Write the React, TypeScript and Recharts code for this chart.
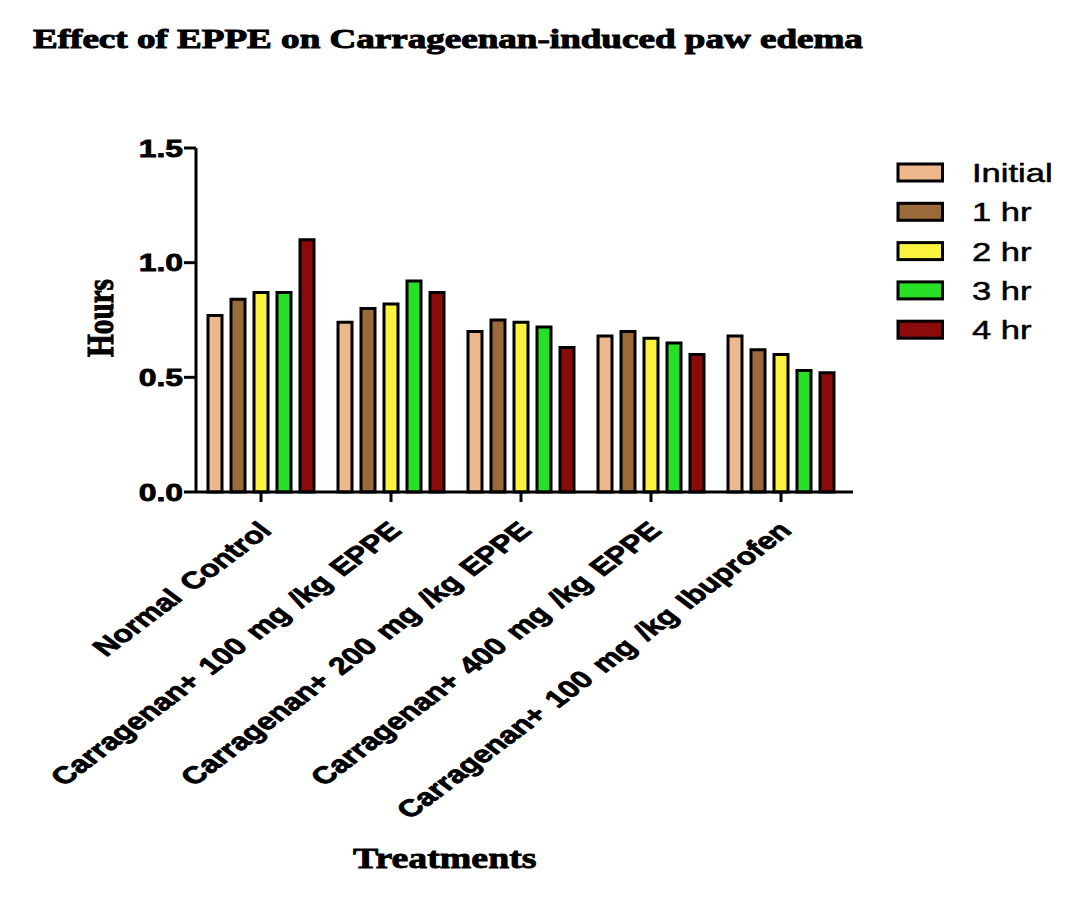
import React from 'react';
import { BarChart, Bar, XAxis, YAxis, Legend } from 'recharts';

const treatments = [
  'Normal Control',
  'Carragenan+ 100 mg /kg EPPE',
  'Carragenan+ 200 mg /kg EPPE',
  'Carragenan+ 400 mg /kg EPPE',
  'Carragenan+ 100 mg /kg Ibuprofen',
];
const initialValues = [0.77, 0.74, 0.7, 0.68, 0.68];
const hr1Values = [0.84, 0.8, 0.75, 0.7, 0.62];
const hr2Values = [0.87, 0.82, 0.74, 0.67, 0.6];
const hr3Values = [0.87, 0.92, 0.72, 0.65, 0.53];
const hr4Values = [1.1, 0.87, 0.63, 0.6, 0.52];

const seriesKeys = ['initial', 'hr1', 'hr2', 'hr3', 'hr4'];
const seriesNames = ['Initial', '1 hr', '2 hr', '3 hr', '4 hr'];
const seriesColors = ['#EDB88C', '#9A6A3B', '#FAF23C', '#27E127', '#8B0B0B'];
const yTicks = [0, 0.5, 1.0, 1.5];

const data = treatments.map((t, i) => ({
  treatment: t,
  initial: initialValues[i],
  hr1: hr1Values[i],
  hr2: hr2Values[i],
  hr3: hr3Values[i],
  hr4: hr4Values[i],
}));

const SX = 1.33;
const SANS = "'Liberation Sans', Arial, sans-serif";
const SERIF = "'Liberation Serif', 'Times New Roman', serif";

const XTick = (props: any) => {
  const { x, y, payload } = props;
  return (
    <g transform={`translate(${x + 12},${y + 28}) scale(${SX},1) rotate(-45)`}>
      <text
        x={0}
        y={0}
        textAnchor="end"
        fontFamily={SANS}
        fontWeight="bold"
        fontSize={24}
        wordSpacing={3}
        fill="#000"
        stroke="#000"
        strokeWidth={0.8}
      >
        {payload.value}
      </text>
    </g>
  );
};

const YTick = (props: any) => {
  const { x, y, payload } = props;
  return (
    <g transform={`translate(${x},${y}) scale(${SX},1)`}>
      <text
        x={0}
        y={0}
        dy="0.36em"
        textAnchor="end"
        fontFamily={SANS}
        fontWeight="bold"
        fontSize={24}
        fill="#000"
        stroke="#000"
        strokeWidth={0.8}
      >
        {Number(payload.value).toFixed(1)}
      </text>
    </g>
  );
};

const HoursLabel = () => (
  <g transform={`translate(113,318) scale(${SX},1) rotate(-90)`}>
    <text
      x={0}
      y={0}
      textAnchor="middle"
      fontFamily={SERIF}
      fontWeight="bold"
      fontSize={29}
      fill="#000"
      stroke="#000"
      strokeWidth={0.8}
      textLength={78}
      lengthAdjust="spacingAndGlyphs"
    >
      Hours
    </text>
  </g>
);

const TreatmentsLabel = () => (
  <g transform={`translate(353,868) scale(${SX},1)`}>
    <text
      x={0}
      y={0}
      textAnchor="start"
      fontFamily={SERIF}
      fontWeight="bold"
      fontSize={29}
      fill="#000"
      stroke="#000"
      strokeWidth={0.8}
      textLength={138}
      lengthAdjust="spacingAndGlyphs"
    >
      Treatments
    </text>
  </g>
);

const LegendContent = () => (
  <svg width={204} height={200} style={{ display: 'block', overflow: 'visible' }}>
    {seriesNames.map((name, i) => (
      <g key={name} transform={`translate(0,${i * 39.3})`}>
        <rect x={18} y={4} width={44.5} height={17} fill={seriesColors[i]} stroke="#000" strokeWidth={3} />
        <g transform={`translate(92,22) scale(${SX},1)`}>
          <text x={0} y={0} fontFamily={SANS} fontSize={26} fill="#000" stroke="#000" strokeWidth={0.5}>
            {name}
          </text>
        </g>
      </g>
    ))}
  </svg>
);

export default function App() {
  return (
    <div style={{ position: 'absolute', left: 0, top: 0, width: 1084, height: 898, background: '#fff', overflow: 'hidden' }}>
      <svg width={1084} height={100} style={{ position: 'absolute', left: 0, top: 0 }}>
        <g transform={`translate(33,48) scale(${SX},1)`}>
          <text
            x={0}
            y={0}
            fontFamily={SERIF}
            fontWeight="bold"
            fontSize={28}
            fill="#000"
            stroke="#000"
            strokeWidth={1}
            textLength={624}
            lengthAdjust="spacingAndGlyphs"
          >
            Effect of EPPE on Carrageenan-induced paw edema
          </text>
        </g>
      </svg>
      <div style={{ position: 'absolute', left: 0, top: 0 }}>
        <BarChart
          width={1084}
          height={898}
          data={data}
          barGap={9}
          margin={{ top: 148, right: 231, bottom: 306, left: 116 }}
        >
          <XAxis
            dataKey="treatment"
            interval={0}
            tick={<XTick />}
            tickSize={10}
            tickMargin={2}
            tickLine={{ stroke: '#000', strokeWidth: 3 }}
            axisLine={{ stroke: '#000', strokeWidth: 3 }}
            height={100}
            padding={{ left: 0, right: 7 }}
            label={<TreatmentsLabel />}
          />
          <YAxis
            domain={[0, 1.5]}
            ticks={yTicks}
            interval={0}
            width={80}
            tick={<YTick />}
            tickSize={12}
            tickMargin={1}
            tickLine={{ stroke: '#000', strokeWidth: 3 }}
            axisLine={{ stroke: '#000', strokeWidth: 3 }}
            label={<HoursLabel />}
          />
          <Legend
            layout="vertical"
            align="center"
            verticalAlign="middle"
            wrapperStyle={{ left: 880, top: 160, width: 204, height: 200 }}
            content={<LegendContent />}
          />
          {seriesKeys.map((k, i) => (
            <Bar
              key={k}
              dataKey={k}
              name={seriesNames[i]}
              fill={seriesColors[i]}
              stroke="#000"
              strokeWidth={3}
              barSize={14}
              isAnimationActive={false}
            />
          ))}
        </BarChart>
      </div>
    </div>
  );
}
